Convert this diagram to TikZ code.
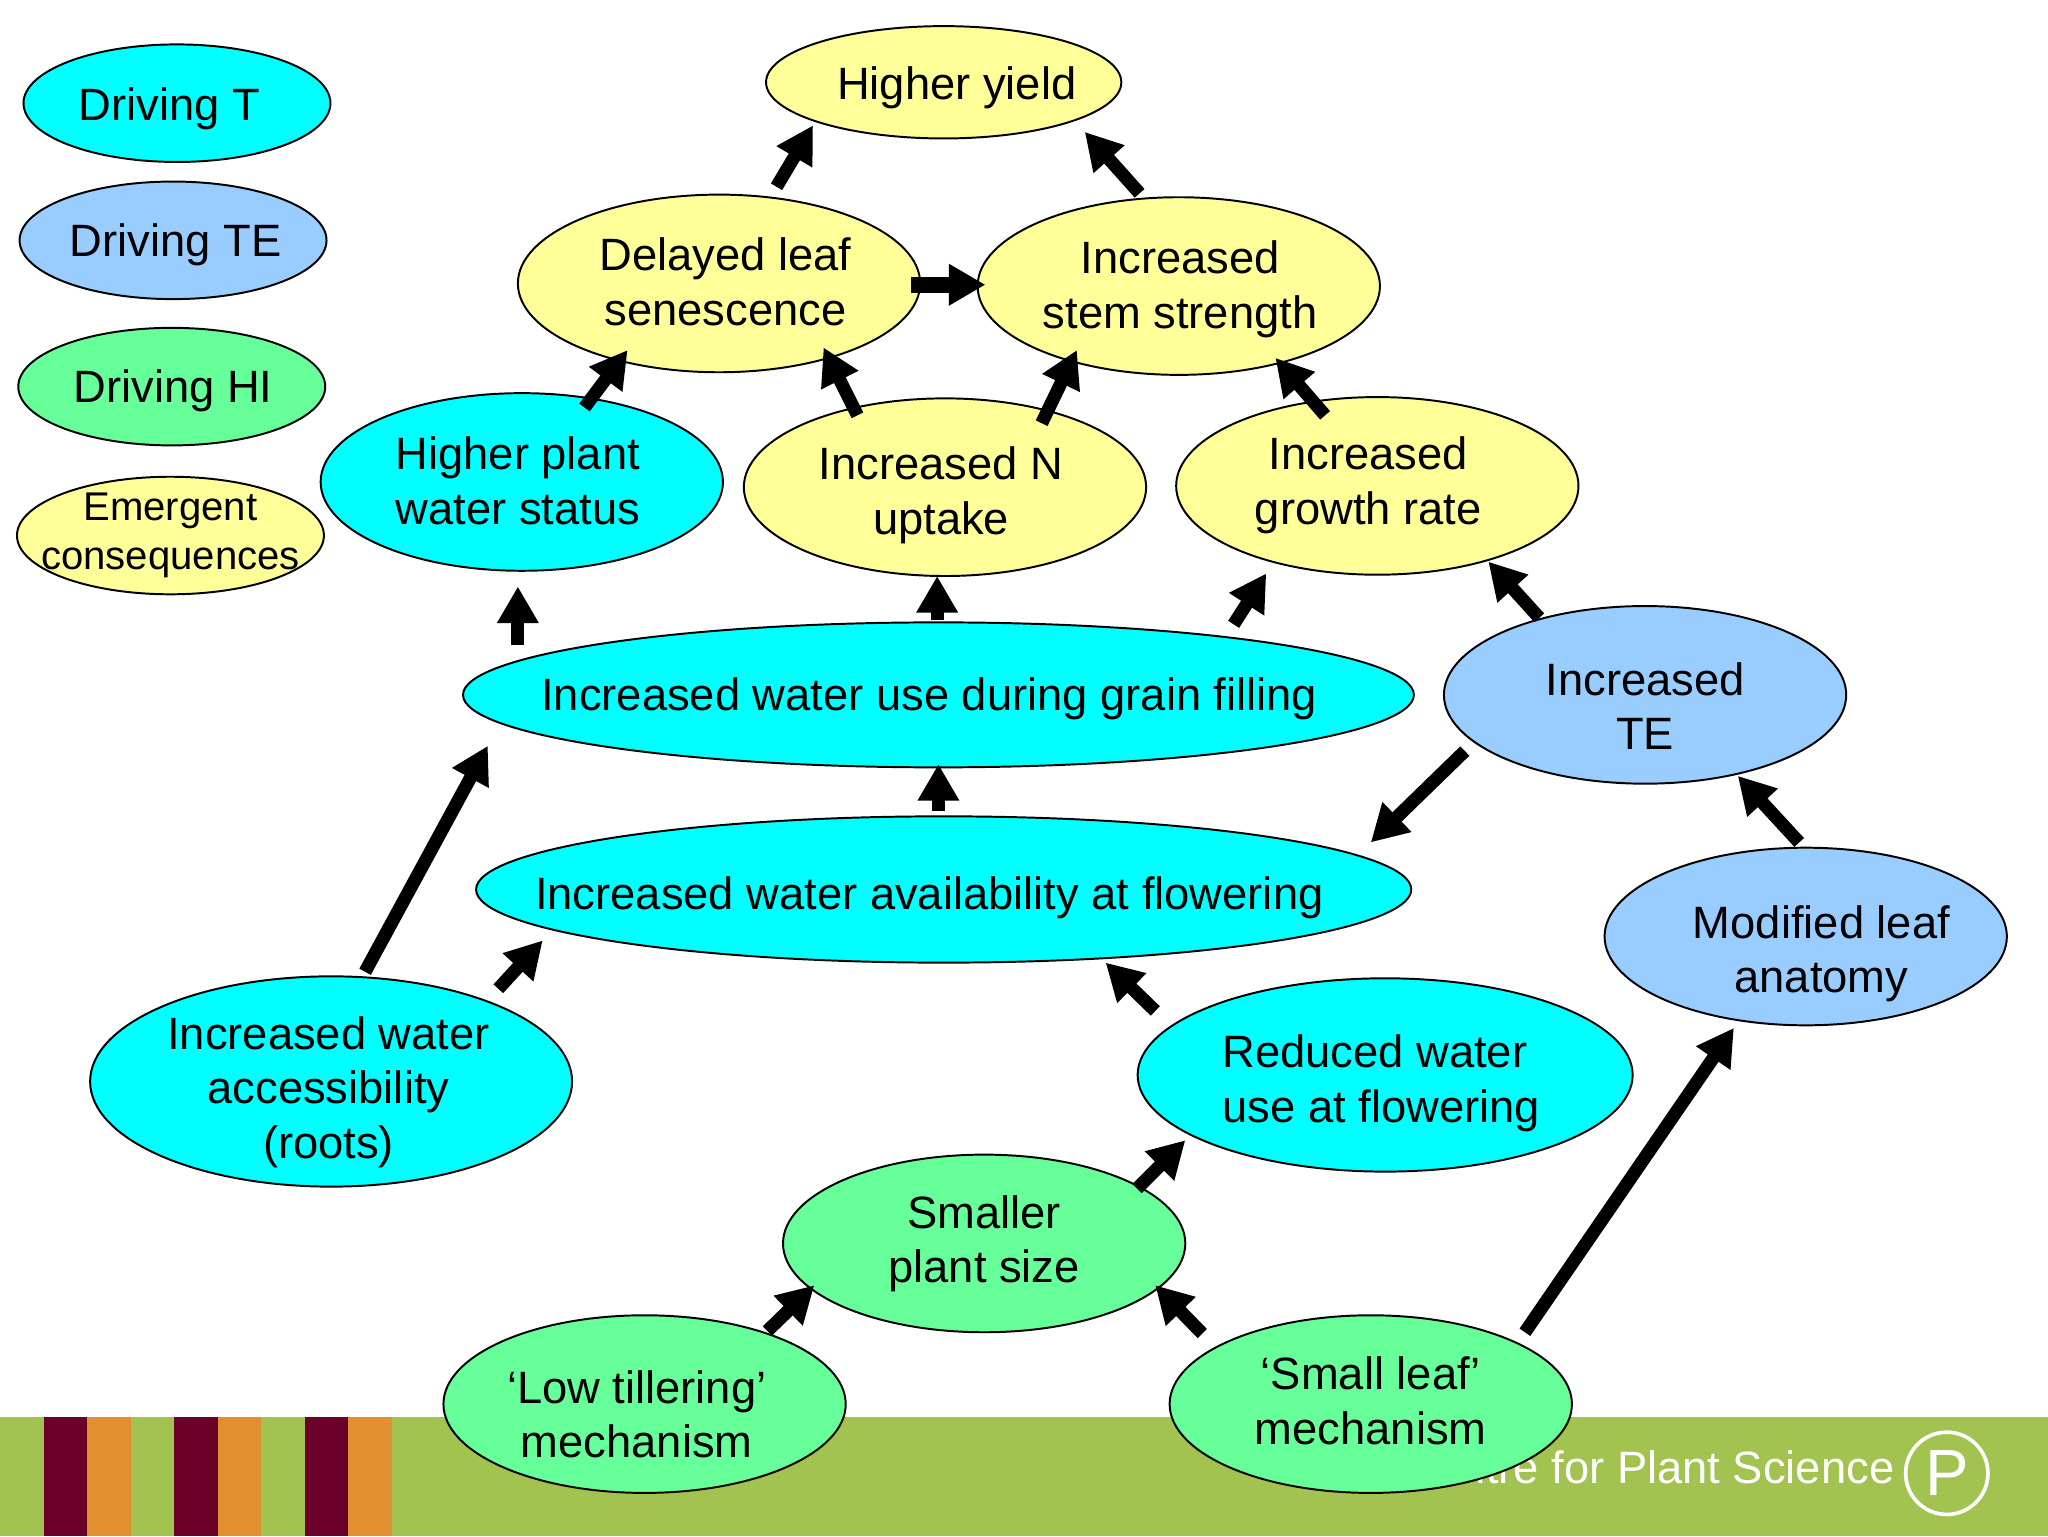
\documentclass[tikz,border=0pt]{standalone}
\usepackage{fontspec}
\setmainfont{Liberation Sans}
\usetikzlibrary{shapes.geometric,arrows.meta}
\definecolor{cT}{HTML}{00FFFF}
\definecolor{cTE}{HTML}{99CCFF}
\definecolor{cHI}{HTML}{66FF99}
\definecolor{cEm}{HTML}{FFFF99}
\definecolor{band}{HTML}{A2C350}
\definecolor{maroon}{HTML}{6B0028}
\definecolor{amber}{HTML}{E09030}
\newcommand\mainf{\fontsize{34.7}{42}\selectfont}
\newcommand\smallf{\fontsize{30.7}{37}\selectfont}
\newcommand\cc[1]{\begin{tabular}[c]{@{}c@{}}#1\end{tabular}}
\newcommand\lc[1]{\begin{tabular}[c]{@{}l@{}}#1\end{tabular}}
% name, x, y, rx, ry, fill, text dx, text dy, text
\newcommand\ov[9]{\node[oval,fill=#6,minimum width=#4*2pt-1pt,minimum height=#5*2pt,xshift=.5pt] (#1) at (#2,#3)
  {\mainf\makebox[0pt][c]{\kern#7pt\kern#7pt\raisebox{\dimexpr-#8pt-10pt\relax}[0pt][0pt]{#9}}};}
% from node, dx, dy, to node, dx, dy
\newcommand\conn[7][]{\draw[link,#1] ([shift={(#3,#4)}]#2.center) -- ([shift={(#6,#7)}]#5.center);}
\tikzset{
  oval/.style={ellipse,draw=black,line width=1.5pt,inner sep=0pt,outer sep=0pt},
  link/.style={line width=10pt,draw=black,-{Triangle[length=28pt,width=30pt]}}
}
\begin{document}
\begin{tikzpicture}[x=1pt,y=-1pt]
\useasboundingbox (0,0) rectangle (1568,1176);
\fill[white] (0,0) rectangle (1568,1176);
\fill[band] (0,1084.5) rectangle (1568,1176);
\foreach \sx in {33.5,133.5,233.5}{
  \fill[maroon] (\sx,1084.5) rectangle (\sx+33.2,1176);
  \fill[amber] (\sx+33.2,1084.5) rectangle (\sx+66.7,1176);
}
\node[text=white,anchor=east,inner sep=0pt,font=\mainf] (brand) at (1450.5,1123) {Centre for Plant Science};
\node[circle,draw=white,line width=2.8pt,minimum size=63pt,inner sep=0pt,text=white,font=\fontsize{50}{50}\selectfont] (logo) at (1490.5,1128) {P};

\ov{legT}{135}{79}{118}{45}{cT}{-6}{1}{\cc{Driving T}}
\ov{legTE}{132}{184}{118}{45}{cTE}{2}{0}{\cc{Driving TE}}
\ov{legHI}{131}{296}{118}{45}{cHI}{1}{0}{\cc{Driving HI}}
\ov{legEm}{130}{410}{118}{45}{cEm}{0}{-4}{\smallf\cc{Emergent\\consequences}}

\ov{yield}{722}{63}{136.5}{43}{cEm}{10}{1}{\cc{Higher yield}}
\ov{delayed}{550}{217}{154.5}{68}{cEm}{5}{-1}{\cc{Delayed leaf\\senescence}}
\ov{stem}{902}{219}{154.5}{68}{cEm}{1}{-1}{\cc{Increased\\stem strength}}
\ov{status}{399}{369}{154.5}{68}{cT}{-3}{-1}{\cc{Higher plant\\water status}}
\ov{nup}{723}{373}{154.5}{68}{cEm}{-3}{3}{\cc{Increased N\\uptake}}
\ov{growth}{1054}{372}{154.5}{68}{cEm}{-7}{-4}{\cc{Increased\\growth rate}}
\ov{use}{718}{532}{364.5}{55.5}{cT}{-7}{0}{\cc{Increased water use during grain filling}}
\ov{te}{1259}{532}{154.5}{68}{cTE}{0}{9}{\cc{Increased\\TE}}
\ov{avail}{722}{681}{358.5}{56}{cT}{-11}{3}{\cc{Increased water availability at flowering}}
\ov{mod}{1382}{717}{154.5}{68}{cTE}{12}{10}{\cc{Modified leaf\\anatomy}}
\ov{roots}{253}{828}{185}{80.5}{cT}{-2}{5}{\cc{Increased water\\accessibility\\(roots)}}
\ov{reduced}{1060}{823}{190}{74}{cT}{-3}{3}{\lc{Reduced water\\use at flowering}}
\ov{smaller}{753}{952}{154.5}{68}{cHI}{0}{-3}{\cc{Smaller\\plant size}}
\ov{low}{493}{1075}{154.5}{68}{cHI}{-6}{8}{\cc{‘Low tillering’\\mechanism}}
\ov{small}{1049}{1075}{154.5}{68}{cHI}{0}{-2}{\cc{‘Small leaf’\\mechanism}}

\conn{delayed}{44}{-74}{yield}{-100}{33}
\conn{stem}{-30}{-71}{yield}{108}{38}
\conn[line width=12pt]{delayed}{147}{1}{stem}{-148}{-1}
\conn{status}{48}{-57}{delayed}{-70}{51}
\conn{nup}{-67}{-55}{delayed}{80}{49}
\conn{nup}{74}{-49}{stem}{-78}{49}
\conn{growth}{-40}{-54}{stem}{74}{55}
\conn{use}{-322}{-38}{status}{-3}{80}
\conn{use}{-1}{-57}{nup}{-6}{68}
\conn{use}{226}{-54}{growth}{-85}{67}
\conn{te}{-81}{-59}{growth}{85}{58}
\conn{te}{-138}{43}{avail}{327}{-36}
\conn{avail}{-4}{-60}{use}{0}{53}
\conn{mod}{-5}{-72}{te}{71}{62}
\conn{roots}{26}{-84}{use}{-345}{39}
\conn{roots}{128}{-71}{avail}{-307}{39}
\conn{reduced}{-176}{-49}{avail}{124}{56}
\conn{smaller}{117}{-42}{reduced}{-153}{50}
\conn{low}{94}{-56}{smaller}{-130}{32}
\conn{small}{-129}{-54}{smaller}{131}{32}
\conn{small}{118}{-55}{mod}{-55}{70}
\end{tikzpicture}
\end{document}
